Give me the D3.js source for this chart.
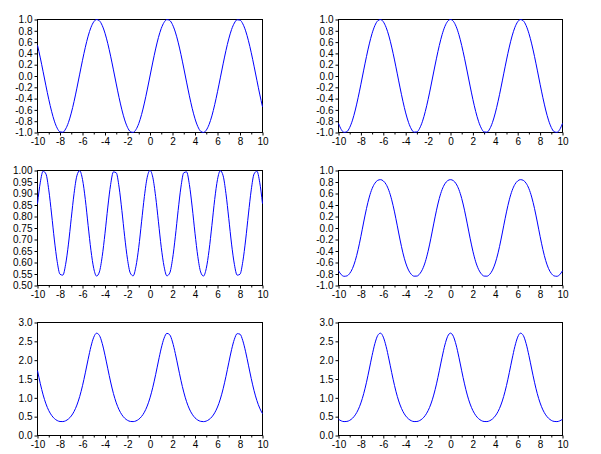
<!DOCTYPE html>
<html><head><meta charset="utf-8">
<script src="https://cdn.jsdelivr.net/npm/d3@7"></script>
<style>body{margin:0;background:#fff}svg{display:block}</style>
</head><body>
<script>
const xValues = [-10,-9.75,-9.5,-9.25,-9,-8.75,-8.5,-8.25,-8,-7.75,-7.5,-7.25,-7,-6.75,-6.5,-6.25,-6,-5.75,-5.5,-5.25,-5,-4.75,-4.5,-4.25,-4,-3.75,-3.5,-3.25,-3,-2.75,-2.5,-2.25,-2,-1.75,-1.5,-1.25,-1,-0.75,-0.5,-0.25,0,0.25,0.5,0.75,1,1.25,1.5,1.75,2,2.25,2.5,2.75,3,3.25,3.5,3.75,4,4.25,4.5,4.75,5,5.25,5.5,5.75,6,6.25,6.5,6.75,7,7.25,7.5,7.75,8,8.25,8.5,8.75,9,9.25,9.5,9.75,10];

const sinValues = [0.544,0.320,0.075,-0.174,-0.412,-0.624,-0.799,-0.923,-0.989,-0.995,-0.938,-0.823,-0.657,-0.450,-0.215,0.033,0.279,0.508,0.706,0.859,0.959,0.999,0.978,0.895,0.757,0.572,0.351,0.108,-0.141,-0.382,-0.599,-0.778,-0.909,-0.984,-0.998,-0.949,-0.842,-0.682,-0.479,-0.247,0,0.247,0.479,0.682,0.842,0.949,0.998,0.984,0.909,0.778,0.599,0.382,0.141,-0.108,-0.351,-0.572,-0.757,-0.895,-0.978,-0.999,-0.959,-0.859,-0.706,-0.508,-0.279,-0.033,0.215,0.450,0.657,0.823,0.938,0.995,0.989,0.923,0.799,0.624,0.412,0.174,-0.075,-0.320,-0.544];

const cosValues = [-0.839,-0.948,-0.997,-0.985,-0.911,-0.781,-0.602,-0.385,-0.146,0.104,0.347,0.568,0.754,0.893,0.977,0.999,0.960,0.861,0.709,0.512,0.284,0.038,-0.211,-0.446,-0.654,-0.821,-0.937,-0.994,-0.990,-0.924,-0.801,-0.628,-0.416,-0.178,0.071,0.315,0.540,0.732,0.878,0.969,1,0.969,0.878,0.732,0.540,0.315,0.071,-0.178,-0.416,-0.628,-0.801,-0.924,-0.990,-0.994,-0.937,-0.821,-0.654,-0.446,-0.211,0.038,0.284,0.512,0.709,0.861,0.960,0.999,0.977,0.893,0.754,0.568,0.347,0.104,-0.146,-0.385,-0.602,-0.781,-0.911,-0.985,-0.997,-0.948,-0.839];

const cosSinValues = [0.856,0.949,0.997,0.985,0.916,0.811,0.698,0.604,0.549,0.545,0.592,0.680,0.792,0.900,0.977,0.999,0.961,0.874,0.761,0.653,0.574,0.541,0.559,0.626,0.727,0.841,0.939,0.994,0.990,0.928,0.826,0.712,0.614,0.554,0.542,0.583,0.666,0.777,0.887,0.970,1,0.970,0.887,0.777,0.666,0.583,0.542,0.554,0.614,0.712,0.826,0.928,0.990,0.994,0.939,0.841,0.727,0.626,0.559,0.541,0.574,0.653,0.761,0.874,0.961,0.999,0.977,0.900,0.792,0.680,0.592,0.545,0.549,0.604,0.698,0.811,0.916,0.985,0.997,0.949,0.856];

const sinCosValues = [-0.744,-0.812,-0.840,-0.833,-0.790,-0.704,-0.566,-0.376,-0.145,0.104,0.340,0.538,0.685,0.779,0.829,0.841,0.819,0.759,0.651,0.490,0.280,0.038,-0.209,-0.432,-0.608,-0.732,-0.806,-0.838,-0.836,-0.798,-0.718,-0.588,-0.404,-0.177,0.071,0.310,0.514,0.668,0.769,0.824,0.841,0.824,0.769,0.668,0.514,0.310,0.071,-0.177,-0.404,-0.588,-0.718,-0.798,-0.836,-0.838,-0.806,-0.732,-0.608,-0.432,-0.209,0.038,0.280,0.490,0.651,0.759,0.819,0.841,0.829,0.779,0.685,0.538,0.340,0.104,-0.145,-0.376,-0.566,-0.704,-0.790,-0.833,-0.840,-0.812,-0.744];

const expSinValues = [1.723,1.376,1.078,0.840,0.662,0.536,0.450,0.397,0.372,0.370,0.391,0.439,0.518,0.638,0.807,1.034,1.322,1.663,2.025,2.361,2.609,2.716,2.658,2.447,2.131,1.771,1.420,1.114,0.868,0.683,0.550,0.459,0.403,0.374,0.369,0.387,0.431,0.506,0.619,0.781,1,1.281,1.615,1.977,2.320,2.583,2.712,2.675,2.483,2.177,1.819,1.465,1.152,0.897,0.704,0.565,0.469,0.409,0.376,0.368,0.383,0.424,0.494,0.602,0.756,0.967,1.240,1.568,1.929,2.278,2.555,2.704,2.690,2.516,2.222,1.867,1.510,1.190,0.928,0.727,0.580];

const expCosValues = [0.432,0.388,0.369,0.374,0.402,0.458,0.548,0.680,0.865,1.110,1.414,1.765,2.125,2.442,2.655,2.717,2.612,2.366,2.031,1.669,1.328,1.038,0.810,0.640,0.520,0.440,0.392,0.370,0.372,0.397,0.449,0.534,0.660,0.837,1.073,1.371,1.717,2.079,2.405,2.635,2.718,2.635,2.405,2.079,1.717,1.371,1.073,0.837,0.660,0.534,0.449,0.397,0.372,0.370,0.392,0.440,0.520,0.640,0.810,1.038,1.328,1.669,2.031,2.366,2.612,2.717,2.655,2.442,2.125,1.765,1.414,1.110,0.865,0.680,0.548,0.458,0.402,0.374,0.369,0.388,0.432];

const xTicks = [-10,-8,-6,-4,-2,0,2,4,6,8,10];
const xMinorTicks = [-9,-7,-5,-3,-1,1,3,5,7,9];
const yTicksUnit = [-1.0,-0.8,-0.6,-0.4,-0.2,0.0,0.2,0.4,0.6,0.8,1.0];
const yTicksHalf = [0.50,0.55,0.60,0.65,0.70,0.75,0.80,0.85,0.90,0.95,1.00];
const yTicksExp = [0.0,0.5,1.0,1.5,2.0,2.5,3.0];

const locale = d3.formatLocale({decimal:".", thousands:",", grouping:[3], currency:["",""], minus:"-"});

const panels = [
  {values: sinValues,    col:0, row:0, domain:[-1,1],   ticks:yTicksUnit, fmt:".1f"},
  {values: cosValues,    col:1, row:0, domain:[-1,1],   ticks:yTicksUnit, fmt:".1f"},
  {values: cosSinValues, col:0, row:1, domain:[0.5,1],  ticks:yTicksHalf, fmt:".2f"},
  {values: sinCosValues, col:1, row:1, domain:[-1,1],   ticks:yTicksUnit, fmt:".1f"},
  {values: expSinValues, col:0, row:2, domain:[0,3],    ticks:yTicksExp,  fmt:".1f"},
  {values: expCosValues, col:1, row:2, domain:[0,3],    ticks:yTicksExp,  fmt:".1f"}
];

const W = 601, H = 454;
const colLeft = [37.5, 338.5], colRight = [262.5, 562.5];
const rowTop = [19.5, 170.5, 322.5], rowBottom = [132.5, 285.5, 435.5];

const svg = d3.select("body").append("svg").attr("width", W).attr("height", H)
  .style("font-family", "'Liberation Sans', Arial, sans-serif").style("font-size", "10px");
svg.append("rect").attr("width", W).attr("height", H).attr("fill", "#fff");

panels.forEach(p => {
  const x = d3.scaleLinear().domain([-10, 10]).range([colLeft[p.col], colRight[p.col]]);
  const y = d3.scaleLinear().domain(p.domain).range([rowBottom[p.row], rowTop[p.row]]);
  const g = svg.append("g");
  const f = locale.format(p.fmt);

  // frame
  g.append("rect").attr("x", x(-10)).attr("y", y(p.domain[1]))
    .attr("width", x(10) - x(-10)).attr("height", y(p.domain[0]) - y(p.domain[1]))
    .attr("fill", "none").attr("stroke", "#000").attr("stroke-width", 1);

  // y axis
  const ya = g.append("g").attr("transform", `translate(${x(-10)},0)`)
    .call(d3.axisLeft(y).tickValues(p.ticks).tickFormat(f).tickSize(3).tickPadding(2).tickSizeOuter(0));
  ya.select(".domain").remove();
  ya.selectAll("text").attr("font-family", "'Liberation Sans', Arial, sans-serif").attr("font-size", "10px").attr("fill", "#000");

  // x axis
  const xa = g.append("g").attr("transform", `translate(0,${y(p.domain[0])})`)
    .call(d3.axisBottom(x).tickValues(xTicks).tickFormat(locale.format("d")).tickSize(3).tickPadding(2).tickSizeOuter(0));
  xa.select(".domain").remove();
  xa.selectAll("text").attr("font-family", "'Liberation Sans', Arial, sans-serif").attr("font-size", "10px").attr("fill", "#000");
  const xm = g.append("g").attr("transform", `translate(0,${y(p.domain[0])})`)
    .call(d3.axisBottom(x).tickValues(xMinorTicks).tickFormat("").tickSize(2).tickSizeOuter(0));
  xm.select(".domain").remove();

  // curve
  const line = d3.line().x((d, i) => x(xValues[i])).y(d => y(d)).curve(d3.curveMonotoneX);
  g.append("path").datum(p.values).attr("d", line)
    .attr("fill", "none").attr("stroke", "#0000ff").attr("stroke-width", 1);
});
</script>
</body></html>
